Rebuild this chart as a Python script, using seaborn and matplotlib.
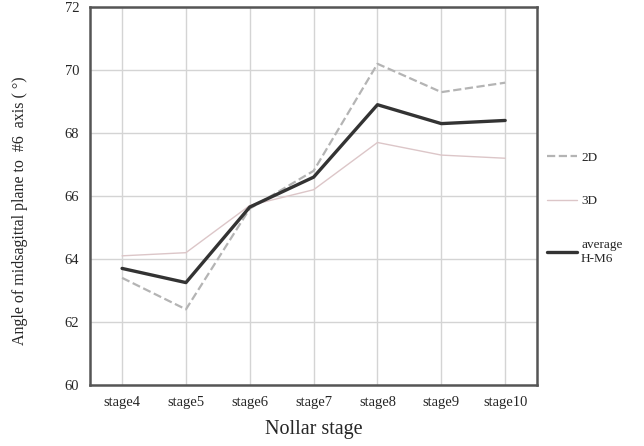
import matplotlib
matplotlib.use("Agg")
import matplotlib.pyplot as plt
import seaborn as sns
import pandas as pd
from matplotlib.lines import Line2D

stages = ["stage4", "stage5", "stage6", "stage7", "stage8", "stage9", "stage10"]
angle_2d = [63.4, 62.4, 65.6, 66.8, 70.2, 69.3, 69.6]
angle_3d = [64.1, 64.2, 65.7, 66.2, 67.7, 67.3, 67.2]
angle_avg = [63.7, 63.25, 65.65, 66.6, 68.9, 68.3, 68.4]
series_names = ["2D", "3D", "average\nH-M6"]
y_ticks = [60, 62, 64, 66, 68, 70, 72]

df = pd.DataFrame({
    "stage": stages * 3,
    "idx": list(range(len(stages))) * 3,
    "angle": angle_2d + angle_3d + angle_avg,
    "series": [series_names[0]] * 7 + [series_names[1]] * 7 + [series_names[2]] * 7,
})

sns.set_theme(style="white")
plt.rcParams["font.family"] = ["Liberation Serif", "DejaVu Serif"]

fig = plt.figure(figsize=(6.44, 4.46), dpi=100)
ax = fig.add_axes([0.140, 0.137, 0.694, 0.847])

colors = {series_names[0]: "#b4b4b4", series_names[1]: "#dcc6c8", series_names[2]: "#333333"}
widths = {series_names[0]: 1.6, series_names[1]: 1.0, series_names[2]: 2.4}

for name in series_names:
    sub = df[df["series"] == name]
    sns.lineplot(data=sub, x="idx", y="angle", ax=ax, color=colors[name],
                 linewidth=widths[name], legend=False,
                 linestyle="--" if name == "2D" else "-", zorder=3)

ax.set_xlim(-0.5, 6.5)
ax.set_ylim(60, 72)
ax.set_xticks(range(len(stages)))
ax.set_xticklabels(stages, fontsize=10.5)
ax.set_yticks(y_ticks)
ax.set_yticklabels([str(t) for t in y_ticks], fontsize=10.5)
ax.tick_params(axis="both", length=0, pad=8)
ax.grid(True, color="#d4d4d4", linewidth=1.0)
ax.set_axisbelow(True)
for sp in ax.spines.values():
    sp.set_color("#555555")
    sp.set_linewidth(1.8)

ax.set_xlabel("Nollar stage", fontsize=14.5, labelpad=8)
ax.set_ylabel("Angle of midsagittal plane to  #6  axis ( °)", fontsize=11.5,
              va="center", ha="center")
ax.yaxis.set_label_coords(-0.157, 0.46)

handles = [Line2D([0], [0], color=colors[n], linewidth=widths[n],
                  linestyle="--" if n == "2D" else "-") for n in series_names]
leg = ax.legend(handles, series_names, loc="center left", bbox_to_anchor=(0.995, 0.468),
                frameon=False, fontsize=9.5, handlelength=2.3, labelspacing=2.4,
                handletextpad=0.3)

fig.savefig("out.png", dpi=100)
